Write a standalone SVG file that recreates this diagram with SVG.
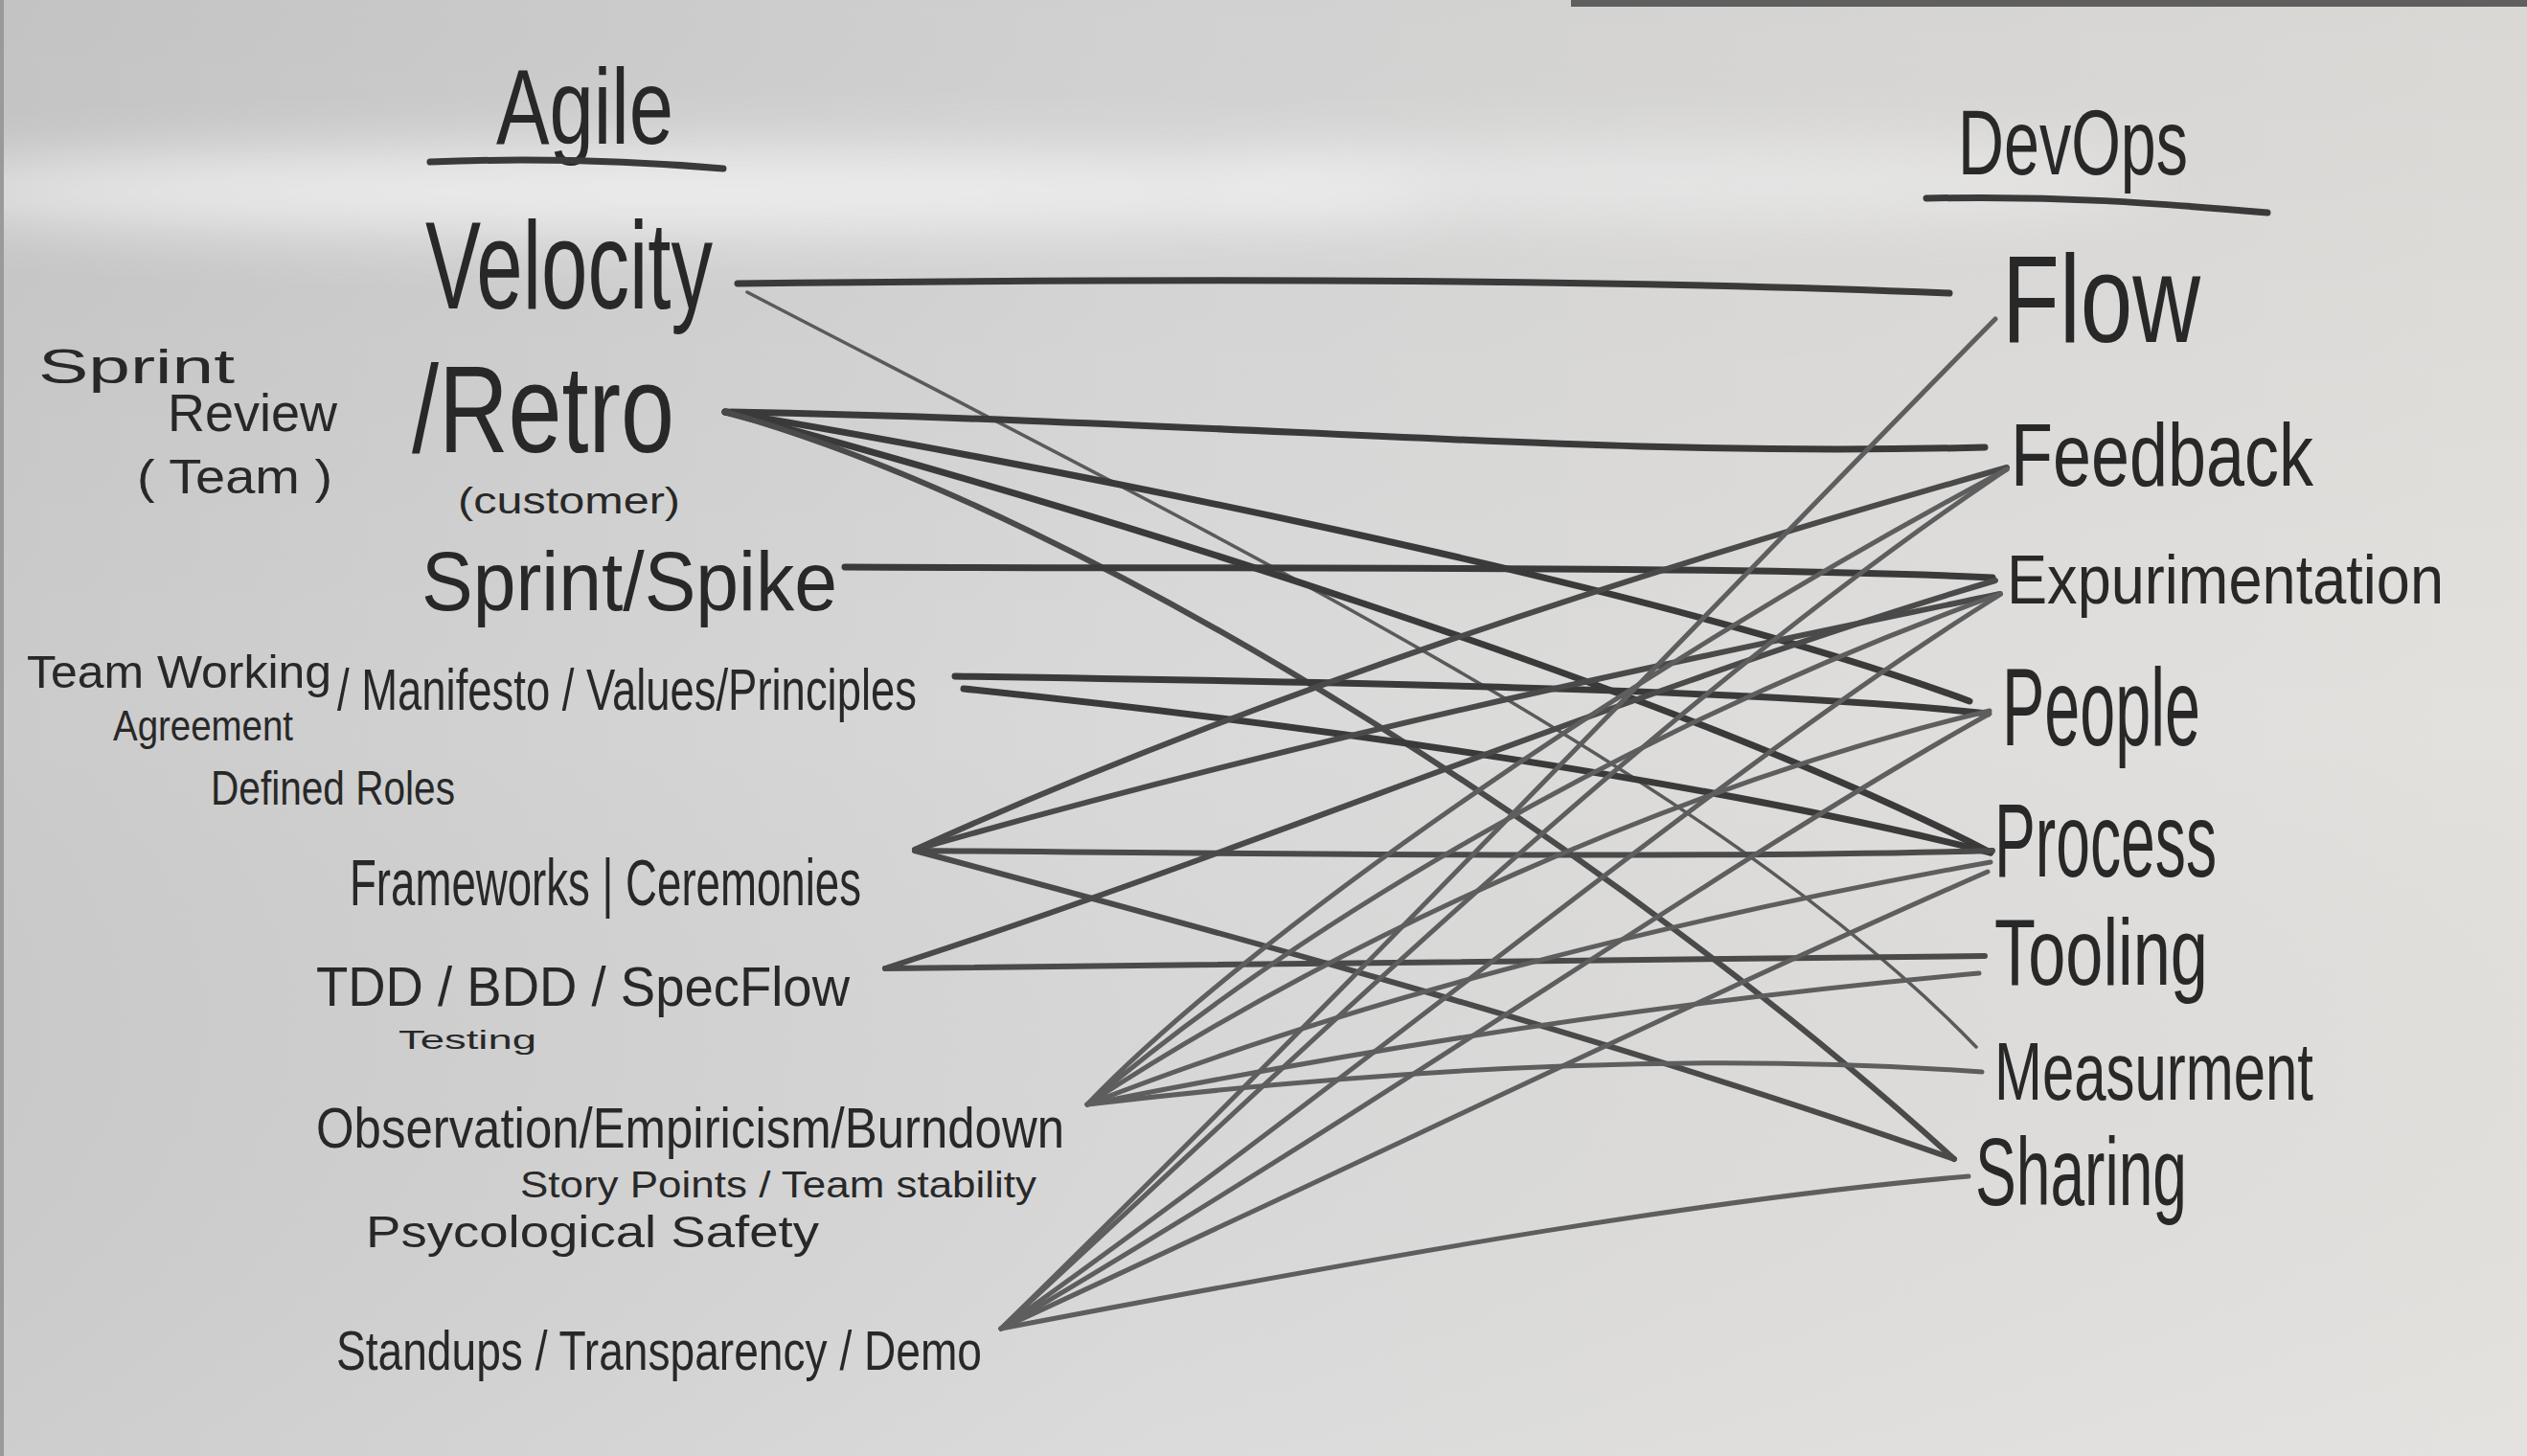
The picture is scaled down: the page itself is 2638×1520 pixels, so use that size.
<svg xmlns="http://www.w3.org/2000/svg" width="2638" height="1520" viewBox="0 0 2638 1520">
<defs>
<linearGradient id="bg" x1="0" y1="0" x2="1" y2="0">
<stop offset="0" stop-color="#cbcbcb"/>
<stop offset="0.45" stop-color="#d9d9d9"/>
<stop offset="1" stop-color="#e3e1de"/>
</linearGradient>
<linearGradient id="bgv" x1="0" y1="0" x2="0" y2="1">
<stop offset="0" stop-color="#000" stop-opacity="0.04"/>
<stop offset="0.5" stop-color="#000" stop-opacity="0"/>
<stop offset="1" stop-color="#fff" stop-opacity="0.05"/>
</linearGradient>
<filter id="blur" x="-20%" y="-200%" width="140%" height="500%"><feGaussianBlur stdDeviation="30"/></filter>
<style>
.t{font-family:"Liberation Sans","DejaVu Sans",Arial,sans-serif;fill:#282828;}
.c{fill:none;stroke-linecap:round;stroke-linejoin:round;}
.k{stroke:#3a3a3a;stroke-width:7;}
.m{stroke:#4a4a4a;stroke-width:6;}
.g{stroke:#5e5e5e;stroke-width:5;}
.th{stroke:#5a5a5a;stroke-width:3.5;}
.u{fill:none;stroke:#3a3a3a;stroke-width:7;stroke-linecap:round;}
</style>
</defs>
<rect x="0" y="0" width="2638" height="1520" fill="url(#bg)"/>
<rect x="0" y="0" width="2638" height="1520" fill="url(#bgv)"/>
<ellipse cx="700" cy="200" rx="800" ry="45" fill="#f4f4f4" opacity="0.8" filter="url(#blur)"/>
<ellipse cx="1750" cy="190" rx="500" ry="40" fill="#f2f2f2" opacity="0.6" filter="url(#blur)"/>
<rect x="1640" y="0" width="998" height="7" fill="#5f5f5f"/>
<rect x="0" y="0" width="4" height="1520" fill="#9a9a9a"/>

<g id="connectors">
<path class="c k" d="M770,296 C1300,290 1700,292 2035,306"/>
<path class="c th" d="M780,305 C1300,575 1800,820 2063,1093"/>
<path class="c k" d="M757,430 C1300,440 1650,478 2072,467"/>
<path class="c k" d="M757,430 C1000,470 1700,600 2056,732"/>
<path class="c k" d="M757,430 C1100,520 1750,720 2078,890"/>
<path class="c m" d="M757,430 C1150,540 1700,900 2040,1210"/>
<path class="c k" d="M882,592 C1300,594 1800,590 2080,603"/>
<path class="c k" d="M997,706 C1400,712 1850,720 2075,745"/>
<path class="c k" d="M1006,719 C1400,760 1800,820 2078,890"/>
<path class="c m" d="M955,887 C1300,730 1700,600 2095,488"/>
<path class="c m" d="M955,887 C1400,760 1800,680 2088,620"/>
<path class="c m" d="M955,888 C1400,892 1800,896 2080,888"/>
<path class="c m" d="M955,888 C1300,980 1700,1090 2040,1210"/>
<path class="c m" d="M924,1011 C1400,1004 1800,1000 2072,998"/>
<path class="c m" d="M924,1011 C1300,890 1700,720 2083,606"/>
<path class="c g" d="M1135,1153 C1300,980 1700,700 2095,490"/>
<path class="c g" d="M1135,1153 C1350,970 1700,760 2088,620"/>
<path class="c g" d="M1135,1153 C1400,980 1750,820 2077,742"/>
<path class="c g" d="M1135,1153 C1450,1030 1800,950 2078,900"/>
<path class="c g" d="M1135,1153 C1500,1080 1800,1040 2066,1016"/>
<path class="c g" d="M1135,1153 C1500,1110 1800,1100 2069,1119"/>
<path class="c g" d="M1045,1387 C1400,1040 1800,620 2083,333"/>
<path class="c g" d="M1045,1387 C1400,1060 1750,720 2095,490"/>
<path class="c g" d="M1045,1387 C1450,1100 1800,800 2086,622"/>
<path class="c g" d="M1045,1387 C1450,1150 1800,900 2077,745"/>
<path class="c g" d="M1045,1387 C1450,1200 1800,1030 2075,910"/>
<path class="c g" d="M1045,1387 C1500,1300 1800,1250 2055,1228"/>
</g>

<g id="title-agile">
<text class="t" x="518" y="150" font-size="112" textLength="185" lengthAdjust="spacingAndGlyphs">Agile</text>
<path class="u" d="M449,169 Q600,163 755,176"/>
</g>
<g id="title-devops">
<text class="t" x="2044" y="182" font-size="97" textLength="240" lengthAdjust="spacingAndGlyphs">DevOps</text>
<path class="u" d="M2011,207 C2150,204 2250,212 2367,222" stroke="#555" stroke-width="6"/>
</g>

<g id="velocity">
<text class="t" x="444" y="322" font-size="130" textLength="300" lengthAdjust="spacingAndGlyphs">Velocity</text>
</g>
<g id="retro">
<text class="t" x="430" y="472" font-size="130" textLength="274" lengthAdjust="spacingAndGlyphs">/Retro</text>
<text class="t" x="478" y="536" font-size="38" textLength="232" lengthAdjust="spacingAndGlyphs">(customer)</text>
</g>
<g id="sprint-review">
<text class="t" x="40" y="400" font-size="50" textLength="205" lengthAdjust="spacingAndGlyphs">Sprint</text>
<text class="t" x="175" y="450" font-size="56" textLength="177" lengthAdjust="spacingAndGlyphs">Review</text>
<text class="t" x="143" y="515" font-size="50" textLength="204" lengthAdjust="spacingAndGlyphs">( Team )</text>
</g>
<g id="sprint-spike">
<text class="t" x="440" y="637" font-size="88" textLength="434" lengthAdjust="spacingAndGlyphs">Sprint/Spike</text>
</g>
<g id="values">
<text class="t" x="28" y="718" font-size="49" textLength="318" lengthAdjust="spacingAndGlyphs">Team Working</text>
<text class="t" x="118" y="773" font-size="45" textLength="188" lengthAdjust="spacingAndGlyphs">Agreement</text>
<text class="t" x="352" y="741" font-size="62" textLength="605" lengthAdjust="spacingAndGlyphs">/ Manifesto / Values/Principles</text>
<text class="t" x="220" y="840" font-size="50" textLength="255" lengthAdjust="spacingAndGlyphs">Defined Roles</text>
</g>
<g id="frameworks">
<text class="t" x="365" y="945" font-size="68" textLength="534" lengthAdjust="spacingAndGlyphs">Frameworks | Ceremonies</text>
</g>
<g id="tdd">
<text class="t" x="330" y="1050" font-size="58" textLength="557" lengthAdjust="spacingAndGlyphs">TDD / BDD / SpecFlow</text>
<text class="t" x="416" y="1095" font-size="28" textLength="144" lengthAdjust="spacingAndGlyphs">Testing</text>
</g>
<g id="observation">
<text class="t" x="330" y="1198" font-size="60" textLength="781" lengthAdjust="spacingAndGlyphs">Observation/Empiricism/Burndown</text>
<text class="t" x="543" y="1250" font-size="38" textLength="539" lengthAdjust="spacingAndGlyphs">Story Points / Team stability</text>
<text class="t" x="382" y="1302" font-size="46" textLength="473" lengthAdjust="spacingAndGlyphs">Psycological Safety</text>
</g>
<g id="standups">
<text class="t" x="351" y="1430" font-size="58" textLength="674" lengthAdjust="spacingAndGlyphs">Standups / Transparency / Demo</text>
</g>

<g id="flow"><text class="t" x="2090" y="357" font-size="130" textLength="207" lengthAdjust="spacingAndGlyphs">Flow</text></g>
<g id="feedback"><text class="t" x="2099" y="507" font-size="93" textLength="316" lengthAdjust="spacingAndGlyphs">Feedback</text></g>
<g id="experimentation"><text class="t" x="2095" y="630" font-size="72" textLength="456" lengthAdjust="spacingAndGlyphs">Expurimentation</text></g>
<g id="people"><text class="t" x="2090" y="778" font-size="115" textLength="207" lengthAdjust="spacingAndGlyphs">People</text></g>
<g id="process"><text class="t" x="2082" y="915" font-size="110" textLength="232" lengthAdjust="spacingAndGlyphs">Process</text></g>
<g id="tooling"><text class="t" x="2082" y="1028" font-size="98" textLength="223" lengthAdjust="spacingAndGlyphs">Tooling</text></g>
<g id="measurement"><text class="t" x="2082" y="1148" font-size="85" textLength="333" lengthAdjust="spacingAndGlyphs">Measurment</text></g>
<g id="sharing"><text class="t" x="2062" y="1258" font-size="100" textLength="221" lengthAdjust="spacingAndGlyphs">Sharing</text></g>
</svg>
